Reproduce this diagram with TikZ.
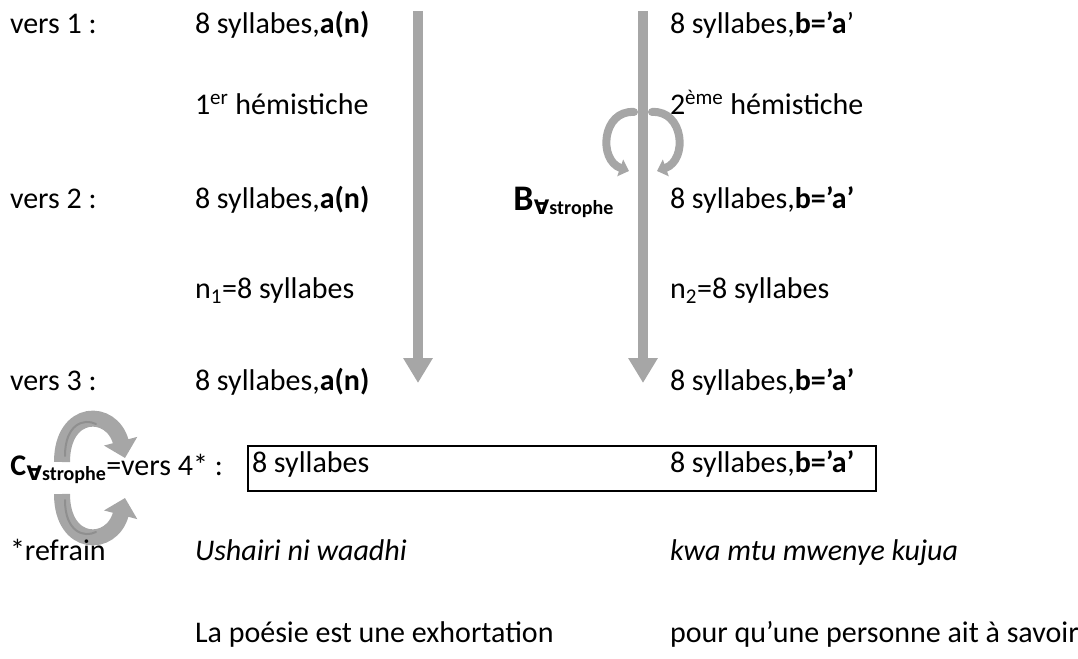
\documentclass[tikz,border=0pt]{standalone}
\usepackage{fontspec}
\setmainfont{Carlito}
\newfontfamily\symfont{DejaVu Sans}
\usetikzlibrary{arrows.meta}
\definecolor{arrgray}{HTML}{A6A6A6}
\definecolor{arrdark}{HTML}{8F8F8F}
\newcommand{\fa}{{\symfont\bfseries ∀}}
\begin{document}
\begin{tikzpicture}[x=0.75pt,y=-0.75pt,
  txt/.style={anchor=base west,inner sep=0pt,outer sep=0pt,font=\fontsize{22.5}{27}\selectfont},
  bigarrow/.style={draw=arrgray,line width=7.5pt,-{Triangle[width=21pt,length=18.75pt]}},
  looparrow/.style={draw=arrgray,line width=6pt,line cap=round,-{Triangle[width=13pt,length=7pt]}},
  carrow/.style={draw=arrgray,line width=12pt,-{Triangle[width=25pt,length=13pt]}},
  stripe/.style={draw=arrdark,line width=1.5pt,line cap=round},
  sub/.style={font=\fontsize{15}{18}\selectfont\bfseries}
]
\useasboundingbox (0,0) rectangle (1078,659);

% left labels
\node[txt] (l1) at (10,34) {vers 1 :};
\node[txt] (l2) at (10,209) {vers 2 :};
\node[txt] (l3) at (10,390) {vers 3 :};

% column A
\node[txt] (a1) at (195,34) {8 syllabes,\textbf{a(n)}};
\node[txt] (h1) at (195,115) {1\textsuperscript{er} hémistiche};
\node[txt] (a2) at (195,209) {8 syllabes,\textbf{a(n)}};
\node[txt] (n1) at (195,299) {n\textsubscript{1}=8 syllabes};
\node[txt] (a3) at (195,390) {8 syllabes,\textbf{a(n)}};

% column B
\node[txt] (b1) at (670,34) {8 syllabes,\textbf{b=’a}’};
\node[txt] (h2) at (670,115) {2\textsuperscript{ème} hémistiche};
\node[txt] (b2) at (670,209) {8 syllabes,\textbf{b=’a’}};
\node[txt] (n2) at (670,299) {n\textsubscript{2}=8 syllabes};
\node[txt] (b3) at (670,390) {8 syllabes,\textbf{b=’a’}};

% big arrows
\coordinate (A0) at (418,11);
\coordinate (A1) at (418,383);
\coordinate (B0) at (643,11);
\coordinate (B1) at (643,383);
\draw[bigarrow] (A0) -- (A1);
\draw[bigarrow] (B0) -- (B1);

% B label
\node[anchor=base west,inner sep=0pt,font=\fontsize{27}{30}\selectfont\bfseries] (Bl) at (513,211) {B};
\node[anchor=base west,inner sep=0pt,sub] (Bs) at (Bl.base east) [yshift=-3pt] {\fa strophe};

% loop arrows
\coordinate (La0) at (634,112);
\coordinate (La1) at (629,171);
\coordinate (Lb0) at (652,112);
\coordinate (Lb1) at (657,171);
\draw[looparrow] (La0) .. controls (602,110) and (598,160) .. (La1);
\draw[looparrow] (Lb0) .. controls (684,110) and (688,160) .. (Lb1);

% refrain row
\node[anchor=base west,inner sep=0pt,font=\fontsize{22.5}{27}\selectfont\bfseries] (Cl) at (10,475) {C};
\node[anchor=base west,inner sep=0pt,sub] (Cs) at (Cl.base east) [yshift=-4pt] {\fa strophe};
\node[txt] (Cv) at (Cs.base east) [yshift=4pt] {=vers 4* :};
\node[draw=black,line width=1.5pt,minimum width=471pt,minimum height=33.75pt,anchor=north west,inner sep=0pt] (box) at (247,445) {};
\node[txt] (c1) at (252,472) {8 syllabes};
\node[txt] (c2) at (670,472) {8 syllabes,\textbf{b=’a’}};

% C arrows
\coordinate (Ca0) at (62,462);
\coordinate (Ca1) at (125,458);
\coordinate (Cb0) at (62,494);
\coordinate (Cb1) at (125,498);
\draw[carrow] (Ca0) .. controls (62,408) and (112,408) .. (Ca1);
\draw[carrow] (Cb0) .. controls (62,548) and (112,548) .. (Cb1);
\draw[stripe] (65,456) .. controls (65,424) and (84,418) .. (96,424);
\draw[stripe] (65,500) .. controls (65,532) and (84,538) .. (96,532);

% bottom rows
\node[txt] (r1) at (10,560) {*refrain};
\node[txt] (r2) at (195,560) {\itshape Ushairi ni waadhi};
\node[txt] (r3) at (670,560) {\itshape kwa mtu mwenye kujua};
\node[txt] (t1) at (195,642) {La poésie est une exhortation};
\node[txt] (t2) at (670,642) {pour qu’une personne ait à savoir};
\end{tikzpicture}
\end{document}
